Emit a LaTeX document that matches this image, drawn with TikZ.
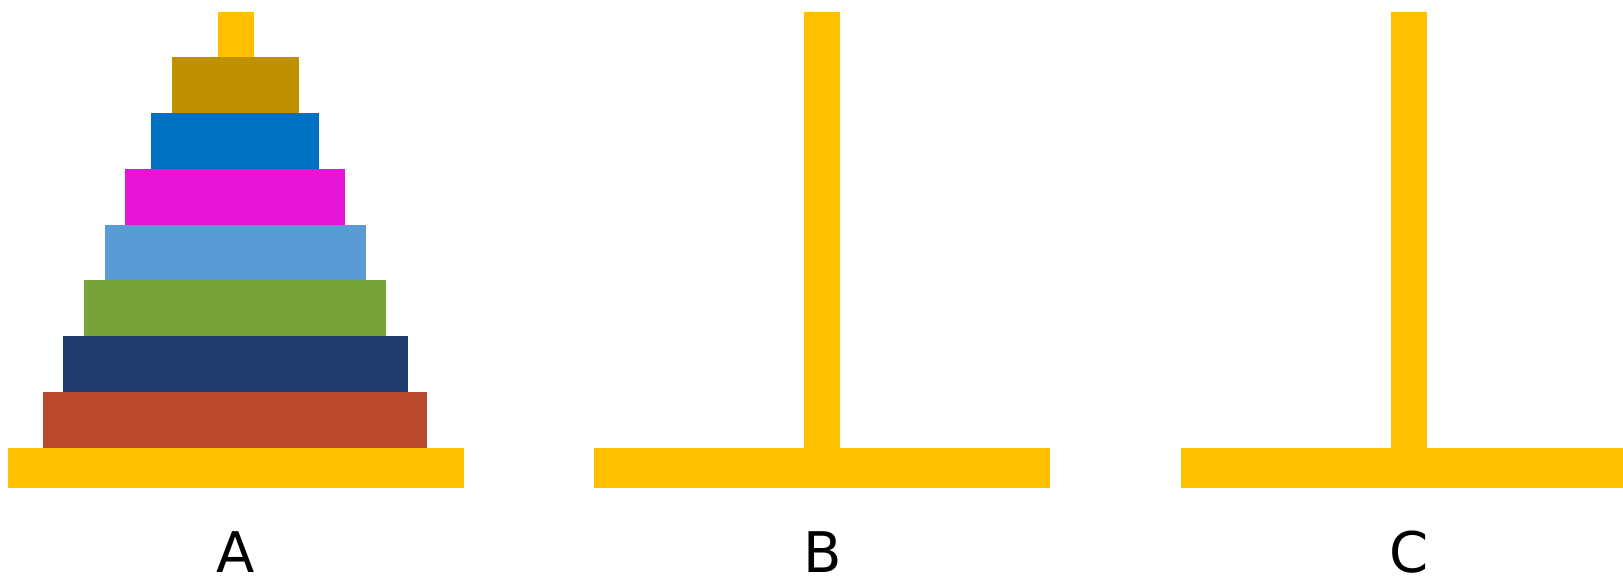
\documentclass[tikz,border=0pt]{standalone}
\usepackage{fontspec}
\setmainfont{DejaVu Sans}
\definecolor{pegc}{HTML}{FFC000}
\definecolor{d1}{HTML}{BF9000}
\definecolor{d2}{HTML}{0070C0}
\definecolor{d3}{HTML}{E615D6}
\definecolor{d4}{HTML}{5B9BD5}
\definecolor{d5}{HTML}{78A23A}
\definecolor{d6}{HTML}{1F3B6D}
\definecolor{d7}{HTML}{B9482D}
\tikzset{
  pegpart/.style={fill=pegc},
  lbl/.style={font=\fontsize{56}{60}\selectfont, anchor=base, inner sep=0pt, text depth=0pt, text=black}
}
\begin{document}
\begin{tikzpicture}[x=1pt,y=-1pt]
\useasboundingbox (0,0) rectangle (1623,577);
% pegs and bases
\foreach \c in {236,822,1409}{
  \fill[pegpart] (\c-18,12) rectangle (\c+18,448);
  \fill[pegpart] (\c-228,448) rectangle (\c+228,488);
}
% disks on A
\fill[d1] (172,57) rectangle (299,113);
\fill[d2] (151,113) rectangle (319,169);
\fill[d3] (125,169) rectangle (345,225);
\fill[d4] (105,225) rectangle (366,280);
\fill[d5] (84,280) rectangle (386,336);
\fill[d6] (63,336) rectangle (408,392);
\fill[d7] (43,392) rectangle (427,448);
% labels
\node[lbl] (la) at (236,572) {A};
\node[lbl] (lb) at (823,572) {B};
\node[lbl] (lc) at (1409,572) {C};
\end{tikzpicture}
\end{document}
